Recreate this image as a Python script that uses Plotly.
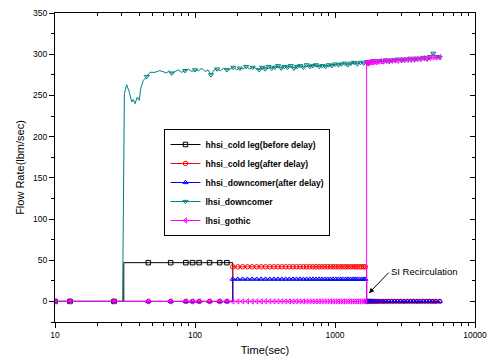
import math
import plotly.graph_objects as go

# ---------------- data ----------------
# common sampling times (sec) of the step-type series
T = [10, 12.8, 26.4, 31.0, 46.4, 67, 86, 96, 107, 127, 150, 169, 186,
     202, 219, 237, 256, 276, 297, 319, 342, 366, 391, 417, 444, 472, 501,
     531, 562, 594, 627, 661, 696, 732, 769, 807, 846, 886, 927, 969, 1012,
     1056, 1101, 1147, 1194, 1242, 1291, 1341, 1392, 1444, 1497, 1551, 1606,
     1645, 1683, 1700, 1720, 1745, 1775, 1810, 1850, 1900, 1960, 2030, 2110,
     2200, 2300, 2410, 2530, 2660, 2800, 2950, 3110, 3280, 3460, 3650, 3850,
     4060, 4280, 4510, 4750, 5000, 5260, 5600]

# hhsi cold leg (before delay): only up to 186 s
COLD_BEFORE = [0] * 3 + [47] * 9 + [0]
COLD_AFTER = [0] * 12 + [42] * 42 + [0] * 30
DC_AFTER = [0] * 12 + [27] * 42 + [0] * 30
GOTHIC = [0] * 54 + [289.5, 289, 290, 289.5, 290, 290.5, 290, 291, 290.5, 291,
                     291.5, 291, 292, 291.5, 292, 292.5, 292, 293, 293, 293.5,
                     293, 294, 294, 294.5, 295, 295, 295.5, 296, 296, 296.5]

# lhsi downcomer (dense, noisy record)
T_LD = [10, 20, 30.4, 31.3, 32.5, 33.8, 35.3, 36.2, 37.3, 38.7,
        40.0, 40.9, 42.7, 45.2, 47.7, 51.8, 55.6, 59.0, 62.8, 65.0,
        68.2, 72, 76, 80, 85, 90, 95, 100, 106, 112,
        118, 124, 130, 137, 144, 152, 160, 169, 178, 188,
        198, 209, 220, 232, 245, 258, 272, 287, 302, 318,
        335, 353, 372, 392, 413, 435, 458, 483, 509, 536,
        565, 595, 627, 661, 696, 733, 772, 814, 857, 903,
        951, 1002, 1056, 1112, 1172, 1234, 1300, 1370, 1443, 1520,
        1601, 1687, 1777, 1872, 1972, 2078, 2189, 2306, 2429, 2559,
        2696, 2840, 2992, 3152, 3320, 3498, 3685, 3882, 4089, 4308,
        4538, 4781, 5036, 5305, 5589]
LHSI_DC = [0, 0, 0, 252, 263, 255, 242, 245, 240, 248,
           244, 258, 268, 273, 278, 278, 280, 279, 277, 280,
           277, 279, 281, 278, 280, 282, 279, 281, 280, 283,
           279, 281, 275, 281, 282, 280, 283, 281, 282, 284,
           281, 283, 282, 285, 282, 284, 283, 281, 284, 282,
           285, 283, 284, 286, 283, 285, 284, 286, 283, 285,
           286, 284, 287, 285, 286, 287, 285, 286, 285, 287,
           286, 288, 287, 288, 289, 287, 289, 290, 288, 290,
           289, 291, 290, 292, 290, 292, 291, 293, 291, 293,
           292, 294, 292, 294, 293, 295, 293, 295, 294, 296,
           294, 297, 301, 297, 296]
LD_MARK_EARLY = [45.2, 68.2, 85, 100, 130, 144, 169, 188, 209, 232, 258, 287]
LD_MARK_FROM = 302

STEP_TIMES = [31.0]          # sample where the jump happens (no symbol drawn)

NAMES = ["hhsi_cold leg(before delay)", "hhsi_cold leg(after delay)",
         "hhsi_downcomer(after delay)", "lhsi_downcomer", "lhsi_gothic"]
COLORS = ["#000000", "#FF0000", "#0000FF", "#008080", "#FF00FF"]
SYMBOLS = ["square-open", "circle-open", "triangle-up-open",
           "triangle-down-open", "triangle-left-open"]

X_TICKS = [10, 100, 1000, 10000]
X_TICK_TEXT = ["10", "100", "1000", "10000"]
Y_RANGE = [-25, 350]

ANNOT_TEXT = "SI Recirculation"
ANNOT_HEAD = (1750, 10)
ANNOT_TEXT_POS = (2430, 35.7)

FONT = "Arial, Liberation Sans, sans-serif"
MS = 4.5

# ---------------- build figure ----------------
fig = go.Figure()


def add_series(x, y, color, symbol, shape, mx, my):
    fig.add_trace(go.Scatter(x=x, y=y, mode="lines", line=dict(color=color, width=1, shape=shape),
                             showlegend=False, hoverinfo="skip"))
    fig.add_trace(go.Scatter(x=mx, y=my, mode="markers",
                             marker=dict(symbol=symbol, size=MS, color=color,
                                         line=dict(color=color, width=1)),
                             showlegend=False, hoverinfo="skip"))


step_series = [(COLD_BEFORE, 0), (COLD_AFTER, 1), (DC_AFTER, 2)]
for vals, k in step_series:
    xs = T[:len(vals)]
    keep = [i for i, t in enumerate(xs) if t not in STEP_TIMES]
    if k == 0:
        keep = keep[:-1]  # last point is the drop to zero
    add_series(xs, vals, COLORS[k], SYMBOLS[k], "hv",
               [xs[i] for i in keep], [vals[i] for i in keep])

# lhsi downcomer
keep = [i for i, t in enumerate(T_LD) if t in LD_MARK_EARLY or t >= LD_MARK_FROM]
add_series(T_LD, LHSI_DC, COLORS[3], SYMBOLS[3], "linear",
           [T_LD[i] for i in keep], [LHSI_DC[i] for i in keep])

# lhsi gothic
keep = [i for i, t in enumerate(T) if t not in STEP_TIMES]
add_series(T, GOTHIC, COLORS[4], SYMBOLS[4], "hv",
           [T[i] for i in keep], [GOTHIC[i] for i in keep])

# legend entries
for k in range(5):
    fig.add_trace(go.Scatter(x=[None], y=[None], mode="lines+markers", name=NAMES[k],
                             line=dict(color=COLORS[k], width=1),
                             marker=dict(symbol=SYMBOLS[k], size=MS, color=COLORS[k],
                                         line=dict(color=COLORS[k], width=1))))

# helper trace for the mirrored (inside-tick) top/right axes
fig.add_trace(go.Scatter(x=[None], y=[None], xaxis="x2", yaxis="y2", showlegend=False,
                         hoverinfo="skip"))

axis_common = dict(showgrid=False, zeroline=False, showline=True, linecolor="black",
                   linewidth=1, tickcolor="black", tickwidth=1, automargin=False,
                   tickfont=dict(family=FONT, size=8.5, color="black"))

fig.update_layout(
    width=489, height=361,
    margin=dict(l=55, r=14, t=13, b=39, autoexpand=False),
    paper_bgcolor="white", plot_bgcolor="white",
    font=dict(family=FONT, color="black"),
    xaxis=dict(type="log", range=[1, 4], tickvals=X_TICKS, ticktext=X_TICK_TEXT,
               ticks="outside", ticklen=5,
               minor=dict(ticks="outside", ticklen=3, dtick="D1", tickcolor="black", showgrid=False),
               title=dict(text="Time(sec)", font=dict(family=FONT, size=11), standoff=7),
               **axis_common),
    yaxis=dict(range=Y_RANGE, tick0=0, dtick=50, ticks="outside", ticklen=5,
               minor=dict(ticks="outside", ticklen=3, dtick=25, tickcolor="black", showgrid=False),
               title=dict(text="Flow Rate(lbm/sec)", font=dict(family=FONT, size=11), standoff=6),
               **axis_common),
    xaxis2=dict(type="log", range=[1, 4], overlaying="x", side="top", tickvals=X_TICKS,
                showticklabels=False, ticks="inside", ticklen=5,
                minor=dict(ticks="inside", ticklen=3, dtick="D1", tickcolor="black", showgrid=False),
                **axis_common),
    yaxis2=dict(range=Y_RANGE, overlaying="y", side="right", tick0=0, dtick=50,
                showticklabels=False, ticks="inside", ticklen=5,
                minor=dict(ticks="inside", ticklen=3, dtick=25, tickcolor="black", showgrid=False),
                **axis_common),
    legend=dict(x=0.2607, y=0.6246, xanchor="left", yanchor="top",
                bgcolor="white", bordercolor="black", borderwidth=1,
                font=dict(family=FONT, size=8.5, weight="bold", color="black"),
                itemwidth=30, tracegroupgap=0),
    annotations=[
        dict(x=math.log10(ANNOT_HEAD[0]), y=ANNOT_HEAD[1], xref="x", yref="y", text="",
             showarrow=True, arrowhead=2, arrowsize=1, arrowwidth=1, arrowcolor="black",
             ax=21, ay=-22, standoff=0),
        dict(x=math.log10(ANNOT_TEXT_POS[0]), y=ANNOT_TEXT_POS[1], xref="x", yref="y",
             text=ANNOT_TEXT, showarrow=False, xanchor="left", yanchor="middle",
             font=dict(family=FONT, size=9.5, color="black")),
    ],
)

fig.write_html("out.html",
               config={"displayModeBar": False},
               post_script="document.body.style.margin='0';document.body.style.padding='0';"
                           "document.body.style.overflow='hidden';")
